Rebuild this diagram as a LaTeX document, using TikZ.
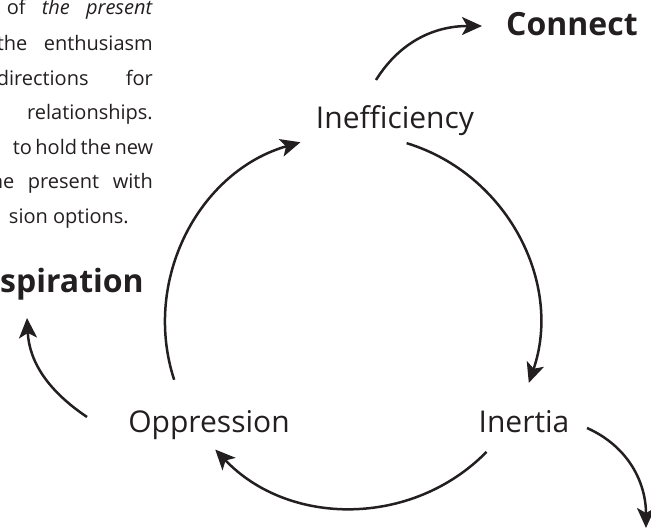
\documentclass[tikz,border=0pt]{standalone}
\usepackage{fontspec}
\setmainfont{Open Sans}
\usetikzlibrary{arrows.meta,calc}
\definecolor{ink}{RGB}{35,31,32}

\begin{document}
\begin{tikzpicture}[
	x=1pt, y=1pt,
	>={Stealth[length=20pt,width=18pt,inset=5pt]},
	stage/.style={font=\fontsize{30}{36}\selectfont, text=ink, inner sep=0pt, anchor=base},
	goal/.style={font=\fontsize{32}{38}\selectfont\bfseries, text=ink, inner sep=0pt},
	para/.style={font=\fontsize{20}{24}\selectfont, text=ink, inner sep=0pt, anchor=base east},
	cyc/.style={->, line width=2.5pt, draw=ink}
]
\useasboundingbox (0,0) rectangle (651,-530);
\clip (0,0) rectangle (651,-530);

% --- Text block, top left ---
\node[para] (p1) at (153,-15) {\makebox[146pt][s]{of \textit{the present}}};
\node[para] (p2) at (153,-50) {\makebox[156pt][s]{the enthusiasm}};
\node[para] (p3) at (153,-85) {\makebox[156pt][s]{directions for}};
\node[para] (p4) at (153,-119) {relationships.};
\node[para] (p5) at (153,-154) {\makebox[140pt][s]{to hold the new}};
\node[para] (p6) at (153,-188) {\makebox[169pt][s]{the present with}};
\node[para] (p7) at (129,-223) {sion options.};

% --- Stages of the cycle ---
\node[stage] (ineff) at (395,-128) {Inefficiency};
\node[stage] (inert) at (524,-432) {Inertia};
\node[stage] (oppr) at (209,-432) {Oppression};

% --- Ways out ---
\node[goal, anchor=base east] (insp) at (144,-292) {Inspiration};
\node[goal, anchor=base west] (conn) at (506,-35) {Connect};

% --- Points on the ring ---
\coordinate (hub) at (352,-322);
\path (hub) ++(73:187) coordinate (ineff-out)
      (hub) ++(-19:187) coordinate (inert-in)
      (hub) ++(-44:187) coordinate (inert-out)
      (hub) ++(-137:187) coordinate (oppr-in)
      (hub) ++(198:187) coordinate (oppr-out)
      (hub) ++(106:187) coordinate (ineff-in);

\coordinate (conn-from) at (376,-80);
\coordinate (conn-to) at (482,-26);
\coordinate (insp-from) at (87,-417);
\coordinate (insp-to) at (27,-318);
\coordinate (down-from) at (587,-428);
\coordinate (down-to) at (646,-528);

% --- Edges ---
\draw[cyc] (ineff-out) to[bend left=46] (inert-in);
\draw[cyc] (inert-out) to[bend left=46] (oppr-in);
\draw[cyc] (oppr-out) to[bend left=46] (ineff-in);

\draw[cyc] (conn-from) to[out=58,in=180] (conn-to);
\draw[cyc] (insp-from) to[out=146,in=-87] (insp-to);
\draw[cyc] (down-from) to[out=-24,in=90] (down-to);

\end{tikzpicture}
\end{document}
